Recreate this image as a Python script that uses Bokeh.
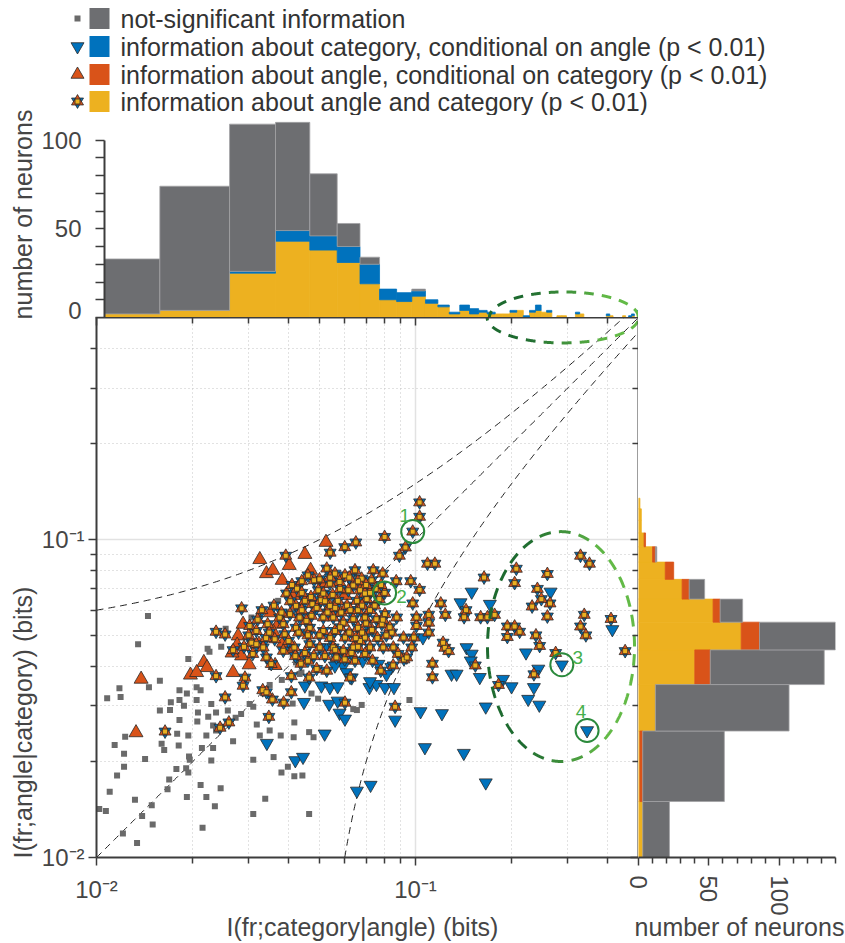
import math
import numpy as np
from bokeh.plotting import figure
from bokeh.layouts import row, column
from bokeh.models import Range1d, FixedTicker, CustomJSTickFormatter, LogAxis, ColumnDataSource
from bokeh.core.properties import value
from bokeh.embed import file_html
from bokeh.resources import INLINE

# ---------------------------------------------------------------- data
# top histogram: I(fr;category|angle), bins of 0.01 bits (centres)
hist_x_bins = [0.01, 0.02, 0.03, 0.04, 0.05, 0.06, 0.07, 0.08, 0.09, 0.10,
               0.11, 0.12, 0.13, 0.14, 0.15, 0.16, 0.17, 0.18, 0.19, 0.20,
               0.21, 0.22, 0.23, 0.24, 0.25, 0.26, 0.27, 0.28, 0.29, 0.30,
               0.31, 0.32, 0.33, 0.34, 0.35, 0.36, 0.37, 0.38, 0.39, 0.40,
               0.41, 0.42, 0.43, 0.44, 0.45, 0.46, 0.47, 0.48, 0.49, 0.50]
hist_x_both = [2, 4, 25, 43, 38, 31, 19, 10, 9, 12,
               8, 6, 2, 4, 2, 3, 2, 2, 2, 3,
               4, 0, 3, 4, 3, 3, 0, 1, 1, 0,
               0, 2, 2, 0, 0, 0, 0, 0, 0, 1,
               1, 0, 0, 0, 1, 0, 0, 1, 0, 3]
hist_x_cat = [0, 0, 1, 6, 8, 9, 11, 6, 5, 3,
              2, 1, 1, 3, 3, 1, 1, 0, 0, 1,
              0, 1, 1, 3, 0, 1, 0, 0, 0, 0,
              0, 1, 0, 0, 0, 0, 0, 0, 0, 1,
              0, 0, 0, 0, 0, 0, 1, 1, 0, 1]
hist_x_ns = [31, 70, 83, 61, 35, 13, 4, 0, 0, 1,
             0, 0, 0, 0, 0, 0, 0, 0, 0, 0,
             0, 0, 0, 0, 0, 0, 0, 0, 0, 0,
             0, 0, 0, 0, 0, 0, 0, 0, 0, 0,
             0, 0, 0, 0, 0, 0, 0, 0, 0, 0]

# right histogram: I(fr;angle|category)
hist_y_bins = [0.01, 0.02, 0.03, 0.04, 0.05, 0.06, 0.07, 0.08, 0.09, 0.10, 0.11, 0.12, 0.13]
hist_y_both = [3, 1, 12, 40, 73, 53, 31, 19, 10, 4, 2, 2, 1]
hist_y_ang = [0, 2, 0, 11, 13, 5, 5, 6, 2, 1, 0, 0, 0]
hist_y_ns = [19, 58, 95, 81, 54, 16, 11, 0, 1, 0, 0, 0, 0]
BIN_W = 0.01

# scatter: (I(fr;category|angle), I(fr;angle|category)) in bits
ns_pts = [(0.0145, 0.0575), (0.0135, 0.0469), (0.0306, 0.0569), (0.0322, 0.0575), (0.0194, 0.0421), (0.0223, 0.0454), (0.0226, 0.0444), (0.0246, 0.046), (0.0254, 0.0524), (0.0158, 0.036),
          (0.0118, 0.0341), (0.0108, 0.0317), (0.0119, 0.032), (0.0146, 0.0343), (0.0171, 0.0308), (0.0182, 0.0336), (0.0192, 0.0328), (0.0188, 0.030), (0.0182, 0.0313), (0.0158, 0.029),
          (0.0206, 0.0343), (0.0212, 0.0336), (0.0206, 0.0313), (0.0208, 0.0286), (0.0229, 0.0304), (0.0237, 0.0286), (0.0224, 0.0277), (0.0207, 0.0268), (0.0182, 0.0271), (0.0194, 0.0242),
          (0.0179, 0.0245), (0.016, 0.0228), (0.0163, 0.0218), (0.0181, 0.0225), (0.0123, 0.024), (0.0114, 0.0226), (0.0122, 0.0212), (0.0142, 0.0204), (0.0122, 0.0193), (0.0116, 0.0181),
          (0.011, 0.0161), (0.0132, 0.0152), (0.0102, 0.0142), (0.0107, 0.014), (0.0149, 0.0146), (0.0139, 0.0135), (0.015, 0.0127), (0.0121, 0.0119), (0.0134, 0.0111), (0.0169, 0.0176),
          (0.0167, 0.0164), (0.0192, 0.0155), (0.0196, 0.0203), (0.0191, 0.0191), (0.0194, 0.0185), (0.0212, 0.0169), (0.0221, 0.0155), (0.0245, 0.0165), (0.0235, 0.0145), (0.0215, 0.0124),
          (0.0229, 0.0202), (0.0232, 0.0221), (0.0268, 0.0232), (0.031, 0.0137), (0.0338, 0.0153), (0.0325, 0.0242), (0.031, 0.0203), (0.0349, 0.0251), (0.0359, 0.0207), (0.0318, 0.0262),
          (0.0273, 0.0275), (0.0284, 0.0283), (0.0232, 0.026), (0.0237, 0.0251), (0.0221, 0.0242), (0.0258, 0.029), (0.0302, 0.0304), (0.0195, 0.0208),
          (0.0472, 0.0328), (0.0495, 0.0316), (0.0412, 0.0305), (0.0417, 0.0266), (0.0378, 0.0242), (0.0415, 0.0239), (0.0464, 0.0248), (0.0479, 0.0239), (0.038, 0.0185), (0.0398, 0.0193),
          (0.0442, 0.0181), (0.0464, 0.0137), (0.0638, 0.0293), (0.0655, 0.0291), (0.0678, 0.0302), (0.0957, 0.0313), (0.0417, 0.018), (0.017, 0.0291), (0.0214, 0.0221), (0.0178, 0.019),
          (0.031, 0.0298), (0.0412, 0.0435), (0.0439, 0.0382), (0.0381, 0.0362), (0.0349, 0.0349), (0.0371, 0.0642), (0.0422, 0.0411), (0.0464, 0.0373), (0.0433, 0.0378), (0.0552, 0.0421)]

cat_pts = [(0.0519, 0.0458), (0.0594, 0.0401), (0.0683, 0.0416), (0.0765, 0.0406), (0.1055, 0.0492), (0.1297, 0.0378), (0.0559, 0.0401), (0.150, 0.0685), (0.1384, 0.0634), (0.171, 0.0627),
           (0.265, 0.0685), (0.414, 0.0522), (0.222, 0.0441), (0.1445, 0.0458), (0.150, 0.0437), (0.149, 0.0416), (0.2875, 0.0404), (0.2426, 0.0392), (0.188, 0.0364), (0.1345, 0.0378),
           (0.159, 0.0369), (0.0342, 0.0229), (0.045, 0.0347), (0.0507, 0.0347), (0.0539, 0.0343), (0.0717, 0.0343), (0.0754, 0.0351), (0.0802, 0.0343), (0.0856, 0.0343), (0.0447, 0.0308),
           (0.0536, 0.0304), (0.057, 0.0311), (0.0578, 0.0285), (0.0601, 0.0273), (0.0519, 0.0245), (0.042, 0.0202), (0.0444, 0.0207), (0.0863, 0.0271), (0.1037, 0.0288), (0.121, 0.0284),
           (0.107, 0.0222), (0.0655, 0.0162), (0.0723, 0.0169), (0.200, 0.0345), (0.235, 0.0343), (0.2255, 0.0315), (0.2444, 0.0302), (0.166, 0.0298), (0.345, 0.0251), (0.1417, 0.0213),
           (0.166, 0.0172), (0.084, 0.0397), (0.0609, 0.0382), (0.057, 0.0345), (0.0631, 0.0368), (0.072, 0.0358), (0.0811, 0.0377)]

ang_pts = [(0.0325, 0.0866), (0.0341, 0.0782), (0.0357, 0.0801), (0.0288, 0.0542), (0.0278, 0.0498), (0.0276, 0.0466), (0.0285, 0.0431), (0.0217, 0.0411), (0.0222, 0.0396), (0.0197, 0.0375),
           (0.0268, 0.0382), (0.0301, 0.0404), (0.0138, 0.0364), (0.0351, 0.0589), (0.0206, 0.0382), (0.0524, 0.0981), (0.045, 0.0899), (0.0402, 0.083), (0.0469, 0.0801), (0.0382, 0.0745),
           (0.0601, 0.0668), (0.0514, 0.0727), (0.0385, 0.0474), (0.0371, 0.0542), (0.0133, 0.0247), (0.0323, 0.0469), (0.0266, 0.044), (0.0363, 0.0402), (0.0417, 0.0668), (0.0358, 0.0513),
           (0.0408, 0.0452)]

both_pts = [(0.103, 0.131), (0.103, 0.118), (0.098, 0.106), (0.080, 0.102), (0.093, 0.0945), (0.089, 0.089), (0.065, 0.098), (0.060, 0.0947), (0.054, 0.091), (0.0392, 0.089),
            (0.109, 0.084), (0.115, 0.084), (0.080, 0.068), (0.0966, 0.074), (0.103, 0.0695), (0.087, 0.074), (0.098, 0.063), (0.120, 0.063), (0.110, 0.058), (0.124, 0.058),
            (0.164, 0.076), (0.207, 0.081), (0.2045, 0.073), (0.259, 0.078), (0.144, 0.060), (0.142, 0.057), (0.160, 0.057), (0.168, 0.057), (0.177, 0.058), (0.241, 0.070),
            (0.248, 0.065), (0.264, 0.063), (0.232, 0.0616), (0.259, 0.0573), (0.194, 0.0533), (0.2045, 0.0533), (0.212, 0.0513), (0.194, 0.0494), (0.2385, 0.050), (0.245, 0.0463),
            (0.329, 0.089), (0.351, 0.084), (0.338, 0.058), (0.329, 0.0533), (0.342, 0.050), (0.410, 0.0563), (0.454, 0.0446), (0.275, 0.044), (0.154, 0.0402), (0.235, 0.0377),
            (0.182, 0.0349), (0.113, 0.0407), (0.113, 0.0369), (0.1236, 0.0457), (0.127, 0.0446), (0.0863, 0.0298), (0.0601, 0.0307), (0.0386, 0.0307), (0.0347, 0.0277), (0.0356, 0.0314),
            (0.0332, 0.0336), (0.0253, 0.0319), (0.0244, 0.0256), (0.0260, 0.0266), (0.0164, 0.0249), (0.0237, 0.0372), (0.0292, 0.0368), (0.0408, 0.0372), (0.0624, 0.0368), (0.0851, 0.0402),
            (0.092, 0.042), (0.0285, 0.0608), (0.0237, 0.0513), (0.0253, 0.0503),
            (0.0737, 0.0801), (0.0789, 0.0782), (0.0646, 0.0801), (0.0601, 0.0772), (0.0559, 0.0782), (0.0527, 0.0811), (0.0678, 0.0754), (0.0728, 0.0745), (0.0638, 0.0718), (0.067, 0.0693),
            (0.0694, 0.0677), (0.0616, 0.0693), (0.0578, 0.0736), (0.0539, 0.0727), (0.0496, 0.0693), (0.0514, 0.0677), (0.0481, 0.0745), (0.046, 0.0772), (0.0425, 0.0701), (0.0394, 0.0677),
            (0.045, 0.0642), (0.0422, 0.0619), (0.0475, 0.0627), (0.0571, 0.0642), (0.0539, 0.0619), (0.0655, 0.0642), (0.0703, 0.065), (0.0802, 0.0583), (0.0873, 0.0569), (0.0754, 0.0562),
            (0.0694, 0.0569), (0.0638, 0.0562), (0.0594, 0.0548), (0.0552, 0.0569), (0.0514, 0.0569), (0.0472, 0.0576), (0.0433, 0.0569), (0.0404, 0.0583), (0.0375, 0.0569), (0.0422, 0.0528),
            (0.0466, 0.0528), (0.0514, 0.0516), (0.0559, 0.0516), (0.0601, 0.0492), (0.066, 0.0528), (0.0694, 0.0492), (0.0784, 0.0542), (0.0842, 0.051), (0.1007, 0.0569), (0.110, 0.0548),
            (0.1007, 0.0535), (0.110, 0.051), (0.122, 0.0474), (0.0988, 0.0492), (0.0917, 0.0492), (0.0852, 0.0458), (0.0882, 0.0437), (0.0939, 0.0426), (0.0973, 0.0458), (0.0792, 0.0458),
            (0.072, 0.0458), (0.067, 0.048), (0.0638, 0.0458), (0.0594, 0.0447), (0.0552, 0.0458), (0.0501, 0.0458), (0.0466, 0.0469), (0.0417, 0.0458), (0.0385, 0.0447), (0.046, 0.0416),
            (0.0527, 0.0387), (0.049, 0.0392), (0.0646, 0.0416), (0.0694, 0.0437), (0.0565, 0.0426), (0.0389, 0.0504), (0.0385, 0.0542),
            (0.0302, 0.0535), (0.0317, 0.0516), (0.0306, 0.0474), (0.0317, 0.0469), (0.0268, 0.0449), (0.0309, 0.0437), (0.0344, 0.0542), (0.0348, 0.051), (0.0362, 0.0486), (0.0341, 0.0426),
            (0.0353, 0.0406), (0.0333, 0.0458), (0.0288, 0.0347), (0.0341, 0.0331), (0.0437, 0.0407), (0.0408, 0.0331), (0.0464, 0.0368), (0.0733, 0.0416), (0.0778, 0.0387),
            (0.0405, 0.0640), (0.0440, 0.0600), (0.0455, 0.0555), (0.0490, 0.0610), (0.0505, 0.0645), (0.0530, 0.0590), (0.0560, 0.0610), (0.0585, 0.0590), (0.0610, 0.0620), (0.0625, 0.0600),
            (0.0660, 0.0600), (0.0680, 0.0620), (0.0720, 0.0600), (0.0745, 0.0620), (0.0770, 0.0650), (0.0720, 0.0680), (0.0750, 0.0700), (0.0780, 0.0720), (0.0700, 0.0720), (0.0660, 0.0740),
            (0.0620, 0.0760), (0.0580, 0.0700), (0.0550, 0.0670), (0.0520, 0.0640), (0.0470, 0.0660), (0.0440, 0.0680), (0.0410, 0.0720), (0.0440, 0.0740), (0.0500, 0.0750), (0.0540, 0.0760),
            (0.0580, 0.0530), (0.0620, 0.0510), (0.0650, 0.0490), (0.0680, 0.0510), (0.0730, 0.0520), (0.0760, 0.0490), (0.0810, 0.0500), (0.0830, 0.0530), (0.0790, 0.0560), (0.0700, 0.0545),
            (0.0540, 0.0490), (0.0500, 0.0500), (0.0460, 0.0500), (0.0430, 0.0510), (0.0400, 0.0480), (0.0420, 0.0430), (0.0450, 0.0440), (0.0480, 0.0430), (0.0520, 0.0430), (0.0560, 0.0450),
            (0.0600, 0.0420), (0.0630, 0.0440), (0.0660, 0.0460), (0.0380, 0.0590), (0.0360, 0.0620), (0.0330, 0.0600), (0.0320, 0.0560), (0.0300, 0.0500), (0.0290, 0.0460), (0.0340, 0.0490)]

# example neurons marked with circles
ex_x = [0.098, 0.080, 0.2875, 0.345]
ex_y = [0.106, 0.068, 0.0404, 0.0251]
ex_labels = ["1", "2", "3", "4"]

BOUND_OFFSET = 0.05  # dashed guide curves y = x +/- 0.05

legend_labels = ["not-significant information",
                 "information about category, conditional on angle (p < 0.01)",
                 "information about angle, conditional on category (p < 0.01)",
                 "information about angle and category (p < 0.01)"]

# ---------------------------------------------------------------- style
FONT = "Liberation Sans"
GRAY_BAR = "#6d6e71"
GRAY_EDGE = "#a2a2a4"
GRAY_PT = "#6a6a6a"
BLUE = "#0072BD"
RED = "#D95319"
YELLOW = "#EDB120"
EDGE = "#2a2a2a"
AXC = "#3c3c3c"
TXT = "#454545"
DARKG = "#1d6a2f"
LIGHTG = "#63ba47"
CIRC = "#2b8a3c"
NUMC = "#45b04c"


def log_ticker():
    return FixedTicker(ticks=[0.01, 0.1],
                       minor_ticks=[0.02, 0.03, 0.04, 0.05, 0.06, 0.07, 0.08, 0.09, 0.2, 0.3, 0.4])


def log_fmt():
    return CustomJSTickFormatter(code="return tick < 0.05 ? '10\u207b\u00b2' : '10\u207b\u00b9';")


def style_axis(ax, mo, mi, standoff):
    ax.axis_line_color = AXC
    ax.axis_line_width = 2
    ax.major_tick_line_color = AXC
    ax.minor_tick_line_color = AXC
    ax.major_tick_line_width = 1.5
    ax.minor_tick_line_width = 1.5
    ax.major_tick_out = mo
    ax.major_tick_in = 0
    ax.minor_tick_out = mi
    ax.minor_tick_in = 0
    ax.major_label_text_font = FONT
    ax.major_label_text_font_size = "24px"
    ax.major_label_text_color = TXT
    ax.major_label_standoff = standoff


def mix(c1, c2, w):
    a = [int(c1[i:i + 2], 16) for i in (1, 3, 5)]
    b = [int(c2[i:i + 2], 16) for i in (1, 3, 5)]
    return "#%02x%02x%02x" % tuple(int(round(a[k] + (b[k] - a[k]) * w)) for k in range(3))


def dashed_ellipse(cx, cy, rx, ry, xs_scale, ys_scale, ylog, dash=11.0, gap=7.0):
    t = np.linspace(0, 2 * np.pi, 2401)
    ex = cx + rx * np.cos(t)
    ey = cy + ry * np.sin(t)
    seg = np.hypot(np.diff(ex * xs_scale), np.diff(ey * ys_scale))
    s = np.concatenate([[0.0], np.cumsum(seg)])
    on = (s % (dash + gap)) < dash
    xs, ys, cs = [], [], []
    i, n = 0, len(t)
    while i < n:
        if on[i]:
            j = i
            while j + 1 < n and on[j + 1]:
                j += 1
            if j > i:
                xs.append(list(10 ** ex[i:j + 1]))
                ys.append(list(10 ** ey[i:j + 1]) if ylog else list(ey[i:j + 1]))
                u = (np.cos(t[(i + j) // 2]) + 1) / 2
                w = min(max((u - 0.25) / 0.55, 0.0), 1.0)
                cs.append(mix(DARKG, LIGHTG, w))
            i = j + 1
        else:
            i += 1
    return ColumnDataSource(dict(xs=xs, ys=ys, c=cs))


def canvas(w, h, x0, x1, y0, y1, **kw):
    p = figure(width=w, height=h, x_range=Range1d(x0, x1), y_range=Range1d(y1, y0),
               x_axis_location=None, y_axis_location=None, min_border=0, frame_align=False,
               outline_line_color=None, toolbar_location=None, output_backend="svg", **kw)
    p.grid.visible = False
    return p


# ---------------------------------------------------------------- legend
lg = canvas(807, 115, 38, 845, 0, 115)
rows_y = [18, 46, 74, 101]
lg.scatter([77], [rows_y[0]], marker="square", size=6, fill_color=GRAY_PT, line_color=None)
lg.scatter([77], [rows_y[1]], marker="inverted_triangle", size=13, fill_color=BLUE, line_color=EDGE, line_width=0.8)
lg.scatter([77], [rows_y[2]], marker="triangle", size=13, fill_color=RED, line_color=EDGE, line_width=0.8)
lg.scatter([77], [rows_y[3]], marker="inverted_triangle", size=12, fill_color=BLUE, line_color=EDGE, line_width=0.8)
lg.scatter([77], [rows_y[3]], marker="triangle", size=12, fill_color=RED, line_color=EDGE, line_width=0.8)
lg.scatter([77], [rows_y[3]], marker="square", size=5, fill_color=YELLOW, line_color=EDGE, line_width=0.8)
lg.rect(x=[99] * 4, y=rows_y, width=20, height=21, fill_color=[GRAY_BAR, BLUE, RED, YELLOW], line_color=None)
lg.text(x=[120] * 4, y=rows_y, text=legend_labels, text_font=value(FONT), text_font_size="25px",
        text_color="#333333", text_baseline="middle", text_align="left")

# ---------------------------------------------------------------- y labels strip
yl = canvas(38, 942, 0, 38, 0, 942)
yl.text(x=[22, 22], y=[214, 722], text=["number of neurons", "I(fr;angle|category) (bits)"],
        angle=math.pi / 2, text_font=value(FONT), text_font_size="25px", text_color=TXT,
        text_align="center", text_baseline="middle")

# ---------------------------------------------------------------- x labels strip (overlaps the axes' margins)
xl = canvas(807, 35, 38, 845, 907, 942, margin=(-18, 0, 0, 0),
            background_fill_alpha=0, border_fill_alpha=0)
xl.text(x=[362, 739], y=[926, 926], text=["I(fr;category|angle) (bits)", "number of neurons"],
        text_font=value(FONT), text_font_size="25px", text_color=TXT,
        text_align="center", text_baseline="middle")

# ---------------------------------------------------------------- top histogram
top = figure(width=600, height=218, x_axis_type="log", x_range=Range1d(0.01, 0.5),
             y_range=Range1d(0, 111.05), x_axis_location=None,
             min_border_left=58, min_border_right=0, min_border_top=5, min_border_bottom=16,
             margin=(0, 0, -16, 0), border_fill_alpha=0,
             outline_line_color=None, toolbar_location=None, output_backend="svg")
top.grid.visible = False
tb = np.array(hist_x_bins)
h1 = np.array(hist_x_both, dtype=float)
h2 = h1 + np.array(hist_x_cat)
h3 = h2 + np.array(hist_x_ns)
for lo, hi, col, lc in [(np.zeros_like(h1), h1, YELLOW, YELLOW), (h1, h2, BLUE, BLUE), (h2, h3, GRAY_BAR, GRAY_EDGE)]:
    m = hi > lo
    top.quad(left=tb[m] - BIN_W / 2, right=tb[m] + BIN_W / 2, bottom=lo[m], top=hi[m],
             fill_color=col, line_color=lc, line_width=0.8)
# tick marks every 10 (drawn as minor ticks); the "0" label sits just above its tick, as in the original
top.yaxis.ticker = FixedTicker(ticks=[4, 50, 100], minor_ticks=[0, 10, 20, 30, 40, 50, 60, 70, 80, 90, 100])
top.yaxis.major_label_overrides = {4: "0"}
top.yaxis.bounds = (0, 100)
style_axis(top.yaxis[0], 0, 9, 14)

# ---------------------------------------------------------------- scatter
sc = figure(width=600, height=608, x_axis_type="log", y_axis_type="log",
            x_range=Range1d(0.01, 0.5), y_range=Range1d(0.01, 0.5),
            min_border_left=58, min_border_right=0, min_border_top=0, min_border_bottom=68,
            border_fill_alpha=0,
            outline_line_color=None, toolbar_location=None, output_backend="svg")
for ax in (sc.xaxis[0], sc.yaxis[0]):
    ax.ticker = log_ticker()
    ax.formatter = log_fmt()
    style_axis(ax, 8, 6, 4)
sc.xaxis.major_label_standoff = 10
for g in (sc.xgrid[0], sc.ygrid[0]):
    g.ticker = log_ticker()
    g.grid_line_color = "#e2e2e2"
    g.grid_line_width = 1.5
    g.minor_grid_line_color = "#c4c4c4"
    g.minor_grid_line_dash = "1 3"
    g.minor_grid_line_width = 1
for loc in ("above", "right"):
    ax = LogAxis(ticker=log_ticker(), formatter=CustomJSTickFormatter(code="return '';"))
    style_axis(ax, 0, 0, 0)
    ax.major_tick_in = 8
    ax.minor_tick_in = 6
    ax.major_label_text_font_size = "0px"
    sc.add_layout(ax, loc)

# guide curves
g = np.logspace(-2, math.log10(0.5), 300)
g2 = np.logspace(-2, math.log10(0.5 - BOUND_OFFSET), 300)
for xx, yy in [(g, g), (g2, g2 + BOUND_OFFSET), (g2 + BOUND_OFFSET, g2)]:
    sc.line(xx, yy, line_color="#1e1e1e", line_width=1, line_dash="7 5")

# points
sc.scatter([p[0] for p in ns_pts], [p[1] for p in ns_pts], marker="square", size=6,
           fill_color=GRAY_PT, line_color=None)
sc.scatter([p[0] for p in cat_pts], [p[1] for p in cat_pts], marker="inverted_triangle", size=13,
           fill_color=BLUE, line_color=EDGE, line_width=0.8)
sc.scatter([p[0] for p in ang_pts], [p[1] for p in ang_pts], marker="triangle", size=14,
           fill_color=RED, line_color=EDGE, line_width=0.8)
bx = [p[0] for p in both_pts]
by = [p[1] for p in both_pts]
sc.scatter(bx, by, marker="inverted_triangle", size=12, fill_color=BLUE, line_color=EDGE, line_width=0.8)
sc.scatter(bx, by, marker="triangle", size=12, fill_color=RED, line_color=EDGE, line_width=0.8)
sc.scatter(bx, by, marker="square", size=5, fill_color=YELLOW, line_color=EDGE, line_width=0.7)

# highlighted regions (dashed ellipses)
e_src = dashed_ellipse(math.log10(0.2858), math.log10(0.0461), 0.2304, 0.3616, 319.0, 318.0, True, 12.0, 8.0)
sc.multi_line("xs", "ys", source=e_src, line_color="c", line_width=3)
e_src2 = dashed_ellipse(math.log10(0.2896), math.log10(0.5), 0.2373, 0.080, 319.0, 318.0, True, 10.0, 8.0)
sc.multi_line("xs", "ys", source=e_src2, line_color="c", line_width=3)
e_src3 = dashed_ellipse(math.log10(0.2896), 0.0, 0.2373, 14.4, 319.0, 1.774, False, 10.0, 8.0)
top.multi_line("xs", "ys", source=e_src3, line_color="c", line_width=3)

# example neurons
sc.scatter(ex_x, ex_y, marker="circle", size=23, fill_color=None, line_color=CIRC, line_width=2)
sc.text(x=ex_x, y=ex_y, text=ex_labels, x_offset=[-8, 17, 16, -6], y_offset=[-16, 4, -7, -19],
        text_font=value(FONT), text_font_size="19px", text_color=NUMC,
        text_align="center", text_baseline="middle")

# ---------------------------------------------------------------- right histogram
rf = figure(width=221, height=608, y_axis_type="log", x_range=Range1d(0, 140.0),
            y_range=Range1d(0.01, 0.5), y_axis_location=None,
            min_border_left=14, min_border_right=10, min_border_top=0, min_border_bottom=68,
            margin=(0, 0, 0, -14), border_fill_alpha=0,
            outline_line_color=None, toolbar_location=None, output_backend="svg")
rf.grid.visible = False
rb = np.array(hist_y_bins)
v1 = np.array(hist_y_both, dtype=float)
v2 = v1 + np.array(hist_y_ang)
v3 = v2 + np.array(hist_y_ns)
for lo, hi, col, lc in [(np.zeros_like(v1), v1, YELLOW, YELLOW), (v1, v2, RED, RED), (v2, v3, GRAY_BAR, GRAY_EDGE)]:
    m = hi > lo
    rf.quad(left=lo[m], right=hi[m], bottom=rb[m] - BIN_W / 2, top=rb[m] + BIN_W / 2,
            fill_color=col, line_color=lc, line_width=0.8)
rf.xaxis.ticker = FixedTicker(ticks=[0, 50, 100],
                              minor_ticks=[10, 20, 30, 40, 60, 70, 80, 90, 110, 120, 130, 140])
style_axis(rf.xaxis[0], 8, 6, 10)
rf.xaxis.major_label_orientation = -math.pi / 2

layout = row(yl, column(lg, top, row(sc, rf), xl))
open("out.html", "w", encoding="utf-8").write(file_html(layout, INLINE))
